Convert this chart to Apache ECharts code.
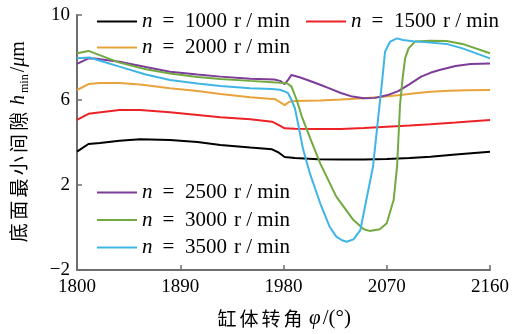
<!DOCTYPE html>
<html>
<head>
<meta charset="utf-8">
<script src="https://cdn.jsdelivr.net/npm/echarts@6/dist/echarts.min.js"></script>
<style>html,body{margin:0;padding:0;background:#fff}#c{width:521px;height:334px}</style>
</head>
<body>
<div id="c"></div>
<script>
// ---- data ----
const speeds = ['1000', '1500', '2000', '2500', '3000', '3500'];
const colors = ['#000000', '#ec2227', '#e8a33d', '#7d3c98', '#72aa41', '#3fb5e6'];

const phi1000 = [1800,1810,1820,1837,1855,1881,1905,1925,1951,1970,1976,1981,1990,2010,2030,2050,2070,2090,2108,2130,2160];
const h1000   = [3.57,3.93,3.98,4.08,4.15,4.12,4.02,3.88,3.76,3.68,3.52,3.32,3.27,3.21,3.2,3.2,3.22,3.27,3.33,3.43,3.56];

const phi1500 = [1800,1810,1817,1837,1855,1881,1925,1951,1970,1976,1981,1990,2010,2030,2050,2070,2090,2108,2130,2160];
const h1500   = [5.06,5.35,5.4,5.53,5.53,5.42,5.19,5.09,4.98,4.82,4.67,4.65,4.63,4.64,4.68,4.74,4.8,4.86,4.94,5.06];

const phi2000 = [1800,1810,1820,1837,1855,1881,1905,1925,1951,1970,1973,1977,1981,1985,1990,2012,2030,2050,2064,2080,2095,2108,2125,2140,2160];
const h2000   = [6.47,6.75,6.8,6.8,6.73,6.55,6.42,6.28,6.13,6.05,6.03,5.9,5.76,5.92,5.95,5.98,6.02,6.08,6.14,6.22,6.32,6.39,6.44,6.46,6.47];

const phi2500 = [1800,1810,1815,1837,1860,1881,1905,1925,1951,1972,1977,1981,1984,1987,1994,2002,2012,2020,2030,2040,2050,2060,2070,2080,2090,2100,2108,2116,2130,2143,2160];
const h2500   = [7.7,7.96,7.95,7.8,7.55,7.33,7.2,7.1,7.0,6.96,6.9,6.75,6.95,7.18,7.07,6.92,6.72,6.55,6.33,6.16,6.08,6.1,6.22,6.42,6.75,7.1,7.28,7.41,7.6,7.69,7.72];

const phi3000 = [1800,1810,1837,1860,1881,1905,1925,1951,1970,1977,1983,1987,1991.5,1996,2004,2012,2026,2041,2050,2055,2064,2070,2076,2079,2081.6,2084,2086,2089,2094.6,2108,2122,2136,2160];
const h3000   = [8.2,8.31,7.76,7.45,7.25,7.08,6.99,6.9,6.84,6.81,6.79,6.63,6.0,5.22,4.1,3.02,1.45,0.35,-0.08,-0.16,-0.08,0.2,1.29,2.86,5.8,7.1,7.96,8.43,8.75,8.79,8.78,8.64,8.2];

const phi3500 = [1800,1811,1823,1837,1860,1881,1905,1925,1951,1970,1977,1982,1984,1987,1990,1993,1997,2003,2012,2020,2026,2031,2035,2041,2047,2052,2058,2064,2066,2068.5,2073,2079,2084,2093,2108,2122,2136,2160];
const h3500   = [7.96,8.0,7.8,7.57,7.2,6.94,6.78,6.66,6.55,6.52,6.48,6.38,6.32,6.0,5.6,4.8,3.7,2.55,1.14,0.06,-0.43,-0.6,-0.67,-0.56,-0.12,1.25,2.86,5.9,6.9,8.27,8.75,8.9,8.82,8.76,8.7,8.64,8.43,7.96];

const xTicks = {min: 1800, max: 2160, step: 90};
const yTicks = {min: -2, max: 10, step: 4};

// ---- build ----
const phis = [phi1000, phi1500, phi2000, phi2500, phi3000, phi3500];
const hs = [h1000, h1500, h2000, h2500, h3000, h3500];

const serif = "'Liberation Serif', 'DejaVu Serif', serif";
const cjk = "'Noto Sans CJK SC', sans-serif";
const axisColor = '#6e6e6e';

const legendRich = {
  i: {fontFamily: serif, fontSize: 21, fontStyle: 'italic', width: 13, lineHeight: 20, color: '#000'},
  e: {fontFamily: serif, fontSize: 21, width: 27, align: 'center', lineHeight: 20, color: '#000'},
  v: {fontFamily: serif, fontSize: 21, width: 48, align: 'center', lineHeight: 20, color: '#000'},
  u: {fontFamily: serif, fontSize: 21, lineHeight: 20, color: '#000', padding: [0, 0, 0, 4]}
};
function legendFmt(name) { return '{i|n}{e|=}{v|' + name + '}{u|r / min}'; }
function mkLegend(data, left, top, orient) {
  return {
    data: data, left: left, top: top, orient: orient || 'horizontal',
    icon: 'rect', itemWidth: 40, itemHeight: 2, itemGap: 6.5, padding: 0,
    selectedMode: false, formatter: legendFmt,
    textStyle: {fontFamily: serif, fontSize: 21, lineHeight: 20, color: '#000', rich: legendRich}
  };
}

const series = speeds.map((s, k) => ({
  name: s, type: 'line', symbol: 'none', showSymbol: false, smooth: false,
  lineStyle: {width: 2, color: colors[k]}, itemStyle: {color: colors[k]},
  data: phis[k].map((p, j) => [p, hs[k][j]])
}));

const option = {
  animation: false,
  backgroundColor: '#fff',
  grid: {left: 77, right: 31, top: 15, bottom: 64},
  legend: [
    mkLegend(['1000'], 97, 11),
    mkLegend(['1500'], 306, 11),
    mkLegend(['2000'], 97, 37),
    mkLegend(['2500', '3000', '3500'], 97, 182, 'vertical')
  ],
  xAxis: {
    type: 'value', min: xTicks.min, max: xTicks.max, interval: xTicks.step,
    axisLine: {onZero: false, lineStyle: {color: axisColor, width: 2}},
    axisTick: {inside: true, length: 5, lineStyle: {color: axisColor, width: 1.5}},
    axisLabel: {color: '#000', fontFamily: serif, fontSize: 19, margin: 8,
      formatter: v => String(v)},
    splitLine: {show: false},
    name: '{c|缸}{c|体}{c|转}{c|角}{g|}{p|φ}{r|/(°)}',
    nameLocation: 'middle', nameGap: 38,
    nameTextStyle: {
      rich: {
        c: {fontFamily: cjk, fontSize: 19, width: 22, align: 'center', color: '#000'},
        g: {width: 5},
        p: {fontFamily: serif, fontSize: 21, fontStyle: 'italic', color: '#000'},
        r: {fontFamily: serif, fontSize: 21, color: '#000', padding: [0, 0, 0, 2]}
      }
    }
  },
  yAxis: {
    type: 'value', min: yTicks.min, max: yTicks.max, interval: yTicks.step,
    axisLine: {show: true, onZero: false, lineStyle: {color: axisColor, width: 2}},
    axisTick: {show: true, inside: true, length: 5, lineStyle: {color: axisColor, width: 1.5}},
    axisLabel: {color: '#000', fontFamily: serif, fontSize: 19, margin: 7,
      formatter: v => String(v).replace('-', '\u2212')},
    splitLine: {show: false},
    name: '{c|底}{c|面}{c|最}{c|小}{c|间}{c|隙}{g|}{h|h}{s|min}{r|/}{mu|μ}{r|m}',
    nameLocation: 'middle', nameGap: 46,
    nameTextStyle: {
      rich: {
        c: {fontFamily: cjk, fontSize: 19, width: 22.3, align: 'center', color: '#000', lineHeight: 24},
        g: {width: 5},
        h: {fontFamily: serif, fontSize: 20, fontStyle: 'italic', color: '#000'},
        s: {fontFamily: serif, fontSize: 12, color: '#000', verticalAlign: 'bottom', lineHeight: 14, padding: [0, 2, 0, 2]},
        r: {fontFamily: serif, fontSize: 20, color: '#000'},
        mu: {fontFamily: serif, fontSize: 20, fontStyle: 'italic', color: '#000'}
      }
    }
  },
  series: series
};

const chart = echarts.init(document.getElementById('c'), null, {renderer: 'canvas'});
chart.setOption(option);
</script>
</body>
</html>
